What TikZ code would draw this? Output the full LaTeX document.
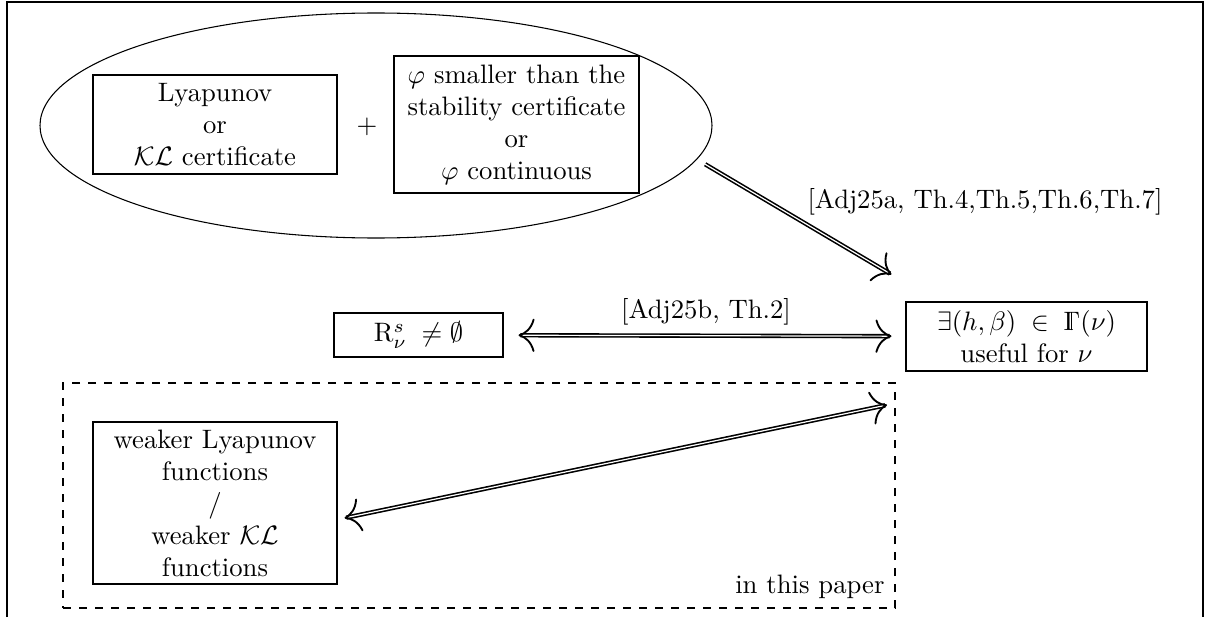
\documentclass[tikz,border=0pt]{standalone}
\usetikzlibrary{arrows.meta,shapes.geometric}
\newcommand{\bbGam}{\mathord{\rlap{$\Gamma$}\hbox to 6.25pt{\kern2.6pt\vrule width 0.4pt height 6.83pt\hss}}}
\begin{document}
\begin{tikzpicture}[x=0.375pt,y=-0.375pt,
  box/.style={draw, align=center, inner sep=0pt, line width=0.4pt},
  dbl/.style={double, double distance=0.45pt, line width=0.6pt},
  tipx/.tip={Computer Modern Rightarrow[length=6pt, width=12.5pt, line width=0.7pt]},
  imp/.style={dbl, -tipx},
  bimp/.style={dbl, tipx-tipx}]
\useasboundingbox (0,0) rectangle (1210,617);
\draw (7,617) -- (7,2) -- (1203,2) -- (1203,617);

% top group
\node[draw, ellipse, inner sep=0pt, minimum width={672*0.375pt}, minimum height={225*0.375pt}] (grp) at (376,125.5) {};
\node[box, minimum width={244*0.375pt}, minimum height={99*0.375pt}] (lyap) at (215,124.5)
  {Lyapunov\\or\\$\mathcal{K}\mathcal{L}$ certificate};
\node (plus) at (367,127) {$+$};
\node[box, minimum width={245*0.375pt}, minimum height={137*0.375pt}] (phi) at (516.5,124.5)
  {$\varphi$ smaller than the\\stability certificate\\or\\$\varphi$ continuous};

% middle row
\node[box, minimum width={169*0.375pt}, minimum height={44*0.375pt}] (rs) at (418.5,335)
  {$\mathrm{R}^{s}_{\nu}\;\neq\emptyset$};
\node[box, minimum width={241*0.375pt}, minimum height={69*0.375pt}] (ex) at (1026.5,336.5)
  {$\exists(h,\beta)\;\in\;\bbGam(\nu)$\\useful for $\nu$};

% dashed region
\node[draw, dashed, inner sep=0pt, minimum width={832*0.375pt}, minimum height={225*0.375pt}] (paper) at (479,495.5) {};
\node[anchor=south east, inner sep=0pt] (paperlab) at (885,599) {in this paper};
\node[box, minimum width={244*0.375pt}, minimum height={162*0.375pt}] (weak) at (215,503)
  {weaker Lyapunov\\functions\\/\\weaker $\mathcal{K}\mathcal{L}$\\functions};

% connectors
\coordinate (a1end) at ([shift={(-14,-27)}]ex.north west);
\draw[imp] ([shift={(8,5)}]grp.-6.5) -- (a1end);
\node[anchor=base] (lab1) at (985,208) {[Adj25a, Th.4,Th.5,Th.6,Th.7]};

\draw[bimp, shorten <=15*0.375pt, shorten >=14*0.375pt] (rs) -- (ex);
\node[anchor=base] (lab2) at (706,318) {[Adj25b, Th.2]};

\coordinate (a3end) at (887,405);
\draw[bimp] ([shift={(7,15)}]weak.east) -- (a3end);
\end{tikzpicture}
\end{document}
